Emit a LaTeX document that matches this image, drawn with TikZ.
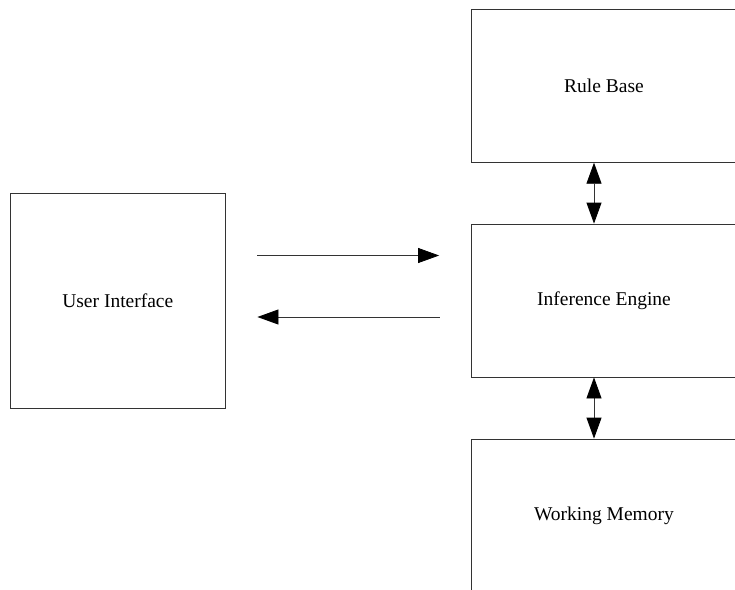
\documentclass[tikz,border=0pt]{standalone}
\usepackage{fontspec}
\setmainfont{Liberation Serif}
\usetikzlibrary{arrows.meta}
\begin{document}
\begin{tikzpicture}[x=1pt,y=-1pt,
  block/.style={draw=black!80, line width=0.8pt, rectangle, inner sep=0pt,
    font=\fontsize{19.5}{22}\selectfont},
  head/.style={Triangle[length=21pt,width=15pt,color=black]},
  link/.style={draw=black!80, line width=0.8pt, -{Triangle[length=21pt,width=15pt,color=black]}},
  dlink/.style={draw=black!80, line width=0.8pt,
    {Triangle[length=21pt,width=15pt,color=black]}-{Triangle[length=21pt,width=15pt,color=black]}}]
  \useasboundingbox (0,0) rectangle (735,589);
  \clip (0,0) rectangle (735,589);
  % components
  \node[block, minimum width=215.5pt, minimum height=215pt] (ui) at (117.8,300.5) {User Interface};
  \node[block, minimum width=266pt, minimum height=153pt] (rb) at (604,85.8) {Rule Base};
  \node[block, minimum width=266pt, minimum height=153pt] (ie) at (604,300.5) {Inference Engine};
  \node[block, minimum width=266pt, minimum height=153pt] (wm) at (604,515.5) {Working Memory};
  % request / response arrows
  \coordinate (uiA) at (ui.east |- 0,255.5);
  \coordinate (ieA) at (ie.west |- 0,255.5);
  \coordinate (uiB) at (ui.east |- 0,317);
  \coordinate (ieB) at (ie.west |- 0,317);
  \draw[link, shorten <=31.5pt, shorten >=31.5pt] (uiA) -- (ieA);
  \draw[link, shorten <=31pt, shorten >=31.5pt] (ieB) -- (uiB);
  % vertical two-way links
  \draw[dlink] (rb.south -| 594,0) -- (ie.north -| 594,0);
  \draw[dlink] (ie.south -| 594,0) -- (wm.north -| 594,0);
\end{tikzpicture}
\end{document}
